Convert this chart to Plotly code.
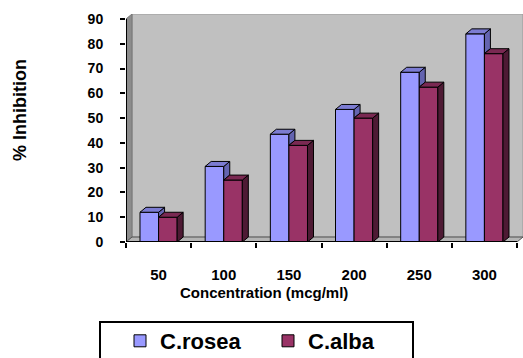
import plotly.graph_objects as go

# Concentration levels and % inhibition for the two species
concentrations = ["50", "100", "150", "200", "250", "300"]
rosea_values = [12, 30.5, 43.5, 53.5, 68.5, 84]
alba_values = [10, 25, 39, 50, 62.5, 76]
y_ticks = [0, 10, 20, 30, 40, 50, 60, 70, 80, 90]

W, H = 523, 358
FONT = "Liberation Sans, Arial, sans-serif"

# pseudo-3D depth offsets (in axis units)
DX = 0.092
DY = 2.0
BAR_W = 0.285
Y_TOP = 90

rosea_front, rosea_top, rosea_side = "#9999FF", "#7C7CD2", "#6464B0"
alba_front, alba_top, alba_side = "#993366", "#7A2952", "#4E1A34"

xs = list(range(len(concentrations)))


def poly_trace(polys, color):
    px, py = [], []
    for p in polys:
        for (a, b) in p + [p[0]]:
            px.append(a)
            py.append(b)
        px.append(None)
        py.append(None)
    return go.Scatter(x=px, y=py, mode="lines", fill="toself", fillcolor=color,
                      line=dict(color="black", width=1), hoverinfo="skip",
                      showlegend=False)


fig = go.Figure()

# front faces
fig.add_trace(go.Bar(x=xs, y=rosea_values, width=BAR_W, offset=-BAR_W, name="C.rosea",
                     marker=dict(color=rosea_front, line=dict(color="black", width=1))))
fig.add_trace(go.Bar(x=xs, y=alba_values, width=BAR_W, offset=0, name="C.alba",
                     marker=dict(color=alba_front, line=dict(color="black", width=1))))

# tops and visible sides
r_side, r_top, a_side, a_top = [], [], [], []
for x, vr, va in zip(xs, rosea_values, alba_values):
    x0, x1, x2 = x - BAR_W, x, x + BAR_W
    r_top.append([(x0, vr), (x0 + DX, vr + DY), (x1 + DX, vr + DY), (x1, vr)])
    r_side.append([(x1, va), (x1 + DX, va + DY), (x1 + DX, vr + DY), (x1, vr)])
    a_top.append([(x1, va), (x1 + DX, va + DY), (x2 + DX, va + DY), (x2, va)])
    a_side.append([(x2, 0), (x2 + DX, DY), (x2 + DX, va + DY), (x2, va)])
fig.add_trace(poly_trace(r_side, rosea_side))
fig.add_trace(poly_trace(r_top, rosea_top))
fig.add_trace(poly_trace(a_side, alba_side))
fig.add_trace(poly_trace(a_top, alba_top))

x_lo, x_hi = -0.5, len(xs) - 0.5


def path(pts):
    return "M " + " L ".join(f"{a},{b}" for a, b in pts) + " Z"


shapes = [
    # back wall
    dict(type="rect", xref="x", yref="y", x0=x_lo + DX, x1=x_hi + DX, y0=DY, y1=Y_TOP + DY,
         fillcolor="#C0C0C0", line=dict(color="#999999", width=1), layer="below"),
    # side wall
    dict(type="path", xref="x", yref="y",
         path=path([(x_lo, 0), (x_lo + DX, DY), (x_lo + DX, Y_TOP + DY), (x_lo, Y_TOP)]),
         fillcolor="#8C8C8C", line=dict(color="#777777", width=1), layer="below"),
    # floor
    dict(type="path", xref="x", yref="y",
         path=path([(x_lo, 0), (x_hi, 0), (x_hi + DX, DY), (x_lo + DX, DY)]),
         fillcolor="#B4B4B4", line=dict(color="#555555", width=1), layer="below"),
    # axis lines
    dict(type="line", xref="x", yref="y", x0=x_lo, x1=x_lo, y0=0, y1=Y_TOP,
         line=dict(color="black", width=2)),
    dict(type="line", xref="x", yref="y", x0=x_lo, x1=x_hi, y0=0, y1=0,
         line=dict(color="black", width=2)),
    # legend frame
    dict(type="rect", xref="paper", yref="paper", x0=100 / W, x1=413 / W,
         y0=(H - 322) / H, y1=-0.1, line=dict(color="black", width=2),
         fillcolor="rgba(0,0,0,0)"),
]

fig.update_layout(
    width=W, height=H,
    margin=dict(l=0, r=0, t=0, b=0, autoexpand=False),
    paper_bgcolor="white", plot_bgcolor="white",
    barmode="overlay",
    font=dict(family=FONT, color="black"),
    shapes=shapes,
    showlegend=True,
    legend=dict(orientation="h", x=120 / W, y=(H - 320) / H, xanchor="left", yanchor="top",
                font=dict(size=22, family=FONT, weight="bold"),
                bgcolor="rgba(0,0,0,0)", borderwidth=0,
                entrywidth=103, entrywidthmode="pixels", traceorder="normal"),
    annotations=[
        dict(text="% Inhibition", xref="paper", yref="paper", x=20 / W, y=(H - 110) / H,
             showarrow=False, textangle=-90, font=dict(size=18, family=FONT, weight="bold"),
             xanchor="center", yanchor="middle"),
        dict(text="Concentration (mcg/ml)", xref="paper", yref="paper", x=264 / W,
             y=(H - 292) / H, showarrow=False, font=dict(size=15, family=FONT, weight="bold"),
             xanchor="center", yanchor="middle"),
    ],
)

fig.update_xaxes(domain=[126 / W, 1], range=[x_lo, x_hi + DX], tickmode="array",
                 tickvals=xs, ticktext=concentrations, ticks="", showgrid=False,
                 zeroline=False, showline=False, ticklabelstandoff=22,
                 tickfont=dict(size=15, family=FONT, weight="bold"),
                 minor=dict(tickmode="array", tickvals=[x_lo + i for i in range(len(xs) + 1)],
                            ticks="outside", ticklen=5, tickwidth=1.5, tickcolor="black"))
fig.update_yaxes(domain=[(H - 242) / H, (H - 14) / H], range=[0, Y_TOP + DY],
                 tickmode="array", tickvals=y_ticks, ticks="outside", ticklen=5,
                 tickwidth=1.5, tickcolor="black", showgrid=False, zeroline=False,
                 showline=False, ticklabelstandoff=14,
                 tickfont=dict(size=14, family=FONT, weight="bold"))

fig.write_html("out.html")
